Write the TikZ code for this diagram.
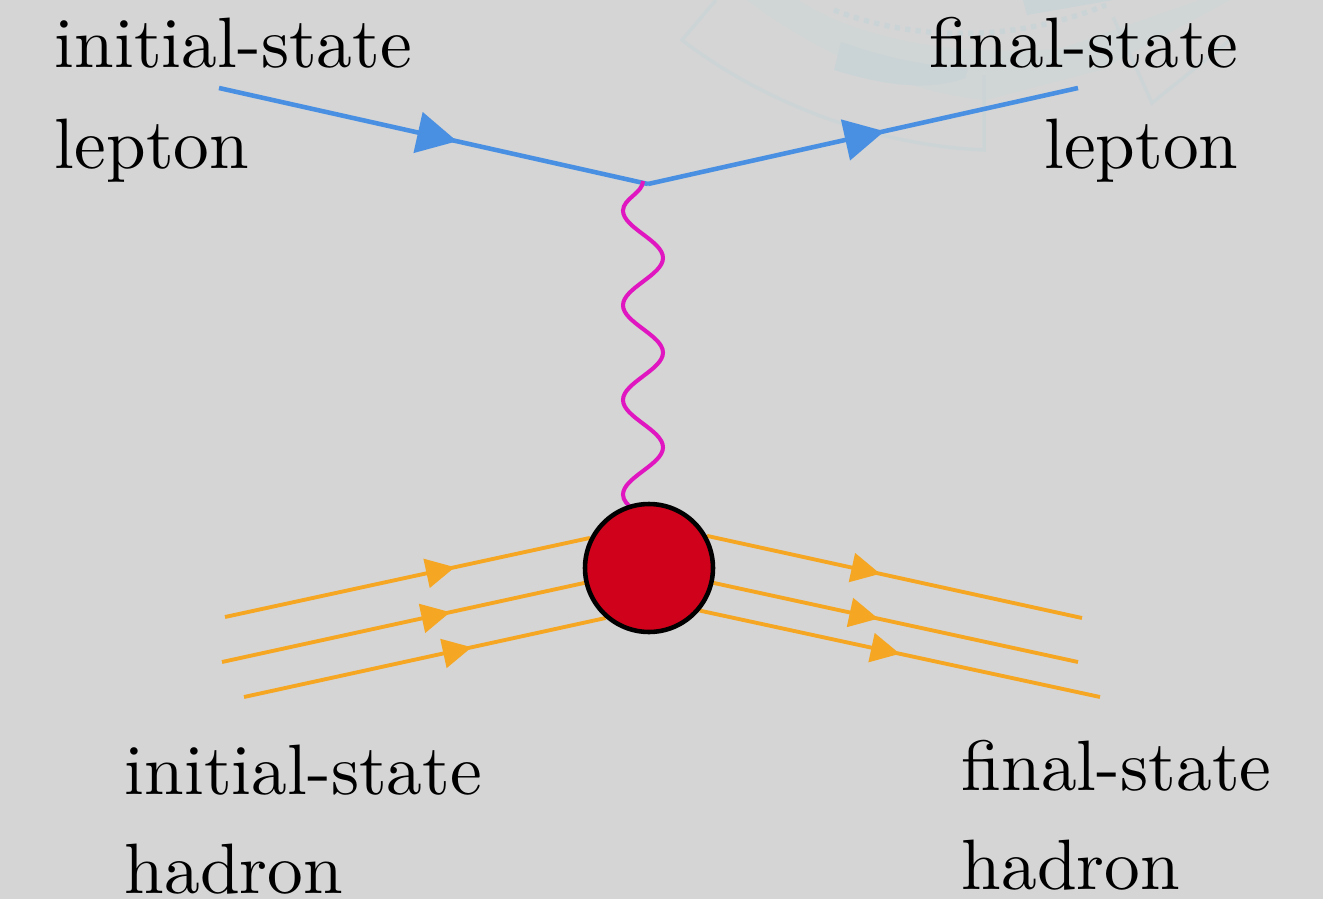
\documentclass[tikz,border=0pt]{standalone}
\usepackage{tikz}
\usepackage{xcolor}
\usetikzlibrary{arrows.meta,backgrounds,decorations.pathmorphing,decorations.markings}
\definecolor{dgback}{HTML}{D5D5D5}
\definecolor{dgblue}{HTML}{4A90E2}
\definecolor{dgorange}{HTML}{F5A623}
\definecolor{dgred}{HTML}{D0021B}
\definecolor{dgpink}{HTML}{E016C0}
\definecolor{dgmark}{HTML}{C9D4D6}
\tikzset{
  lbl/.style      = {scale=4.06, inner sep=0pt, anchor=base west},
  lblr/.style     = {lbl, anchor=base east},
  lepton/.style   = {draw=dgblue, line width=2.6pt, postaction={decorate},
                     decoration={markings, mark=at position #1 with
                     {\arrow[dgblue]{Triangle[length=0.8cm,width=0.82cm]}}}},
  hadron/.style   = {draw=dgorange, line width=2.2pt, postaction={decorate},
                     decoration={markings, mark=at position #1 with
                     {\arrow[dgorange]{Triangle[length=0.58cm,width=0.58cm]}}}},
  photon/.style   = {draw=dgpink, line width=2.3pt, decorate,
                     decoration={snake, segment length=1.894cm, amplitude=0.4cm,
                     mirror}},
  blob/.style     = {circle, draw=black, fill=dgred, line width=2.6pt,
                     minimum size=2.56cm, inner sep=0pt},
  logoline/.style = {draw=dgmark!65!dgback, line width=2pt},
  logoband/.style = {fill=dgmark!45!dgback, draw=none},
  logoblock/.style= {fill=dgmark!90!dgback, draw=none},
  logodots/.style = {draw=dgmark!90!dgback, line width=3pt, dash pattern=on 3pt off 3pt},
}
\begin{document}
\begin{tikzpicture}[x=0.02cm,y=-0.02cm]
  \useasboundingbox (0,0) rectangle (1323,899);

  % ---------- blob first, the lines go behind it ------------------------
  \node[blob] (had) at (649,568) {};

  \begin{pgfonlayer}{background}
  \fill[dgback] (0,0) rectangle (1323,899);

  % ---------- faint logo behind the labels ------------------------------
  \fill[logoband] (747,0) .. controls (810,48) and (900,92) .. (986,100)
    -- (1100,70) -- (1230,0) -- (1200,0) -- (1063,48)
    .. controls (960,58) and (860,40) .. (798,0) -- cycle;
  \fill[logoblock] (841,42) -- (834,70) .. controls (880,84) and (925,92) .. (965,78)
    -- (968,68) .. controls (920,66) and (880,56) .. (841,42) -- cycle;
  \fill[logoblock] (1023,0) -- (1027,15) -- (1113,0) -- cycle;
  \draw[logodots] (834,10) .. controls (900,36) and (1000,48) .. (1106,5);
  \draw[logoline] (716,0) -- (682,40) .. controls (760,100) and (870,145) .. (984,150) -- (984,75);
  \draw[logoline] (1113,17) -- (1152,103) -- (1230,40);

  % ---------- leptons ---------------------------------------------------
  \coordinate (vtx) at (648,184);
  \coordinate (lepin) at (219,88);
  \coordinate (lepout) at (1078,88);
  \draw[lepton=0.555] (lepin) -- (vtx);
  \draw[lepton=0.55] (vtx) -- (lepout);

  % ---------- exchanged boson -------------------------------------------
  \coordinate (wavetop) at (643,181);
  \coordinate (wavebot) at (643,527);
  \draw[photon] (wavetop) -- (wavebot);

  % ---------- hadron lines ----------------------------------------------
  \coordinate (hin1) at (225,617);
  \coordinate (hin2) at (222,662);
  \coordinate (hin3) at (244,697);
  \coordinate (hout1) at (1082,618);
  \coordinate (hout2) at (1078,662);
  \coordinate (hout3) at (1100,697);
  \draw[hadron=0.63]  (hin1) -- (had.153);
  \draw[hadron=0.63]  (hin2) -- (had.193);
  \draw[hadron=0.63]  (hin3) -- (had.229);
  \draw[hadron=0.462] (had.29) -- (hout1);
  \draw[hadron=0.452] (had.347) -- (hout2);
  \draw[hadron=0.50]  (had.320) -- (hout3);
  \end{pgfonlayer}

  % ---------- labels ----------------------------------------------------
  \node[lbl] (t1) at (53.5,67) {initial-state};
  \node[lbl] (t2) at (53.5,168) {lepton};
  \node[lblr] (t3) at (1240,67) {final-state};
  \node[lblr] (t4) at (1240,168) {lepton};
  \node[lbl] (t5) at (123.5,794) {initial-state};
  \node[lbl] (t6) at (123.5,893) {hadron};
  \node[lbl] (t7) at (960.5,790) {final-state};
  \node[lbl] (t8) at (960.5,889) {hadron};
\end{tikzpicture}
\end{document}
